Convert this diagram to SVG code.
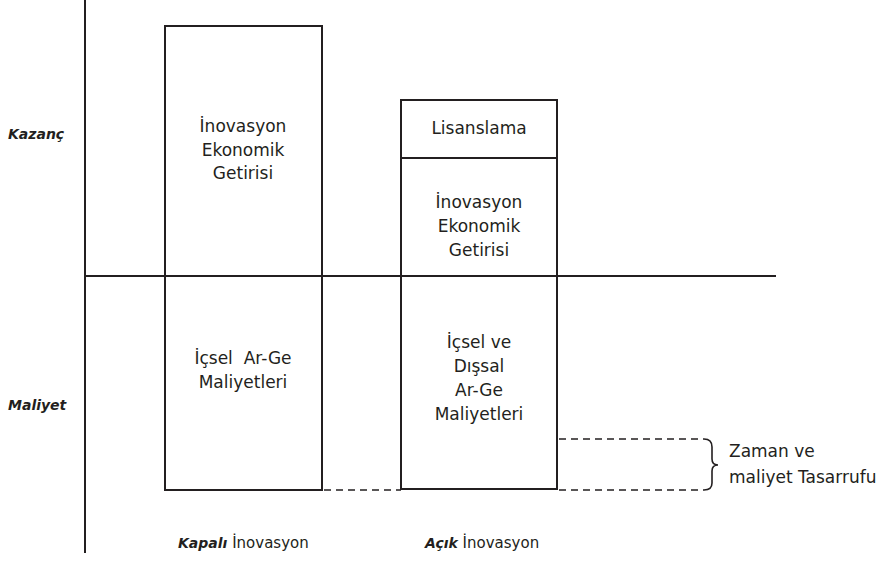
<svg xmlns="http://www.w3.org/2000/svg" width="877" height="561" viewBox="0 0 877 561">
<style>
.ln{stroke:#231f20;stroke-width:2;fill:none}
.dash{stroke:#231f20;stroke-width:1.6;fill:none;stroke-dasharray:7 5}
.t{font-family:"DejaVu Sans",sans-serif;font-size:17px;fill:#231f20;text-anchor:middle}
.b{font-family:"DejaVu Sans",sans-serif;font-size:14px;font-weight:bold;font-style:italic;fill:#231f20}
.s{font-family:"DejaVu Sans",sans-serif;font-size:17px;fill:#231f20}
.f{font-family:"DejaVu Sans",sans-serif;font-size:15px;fill:#231f20}
</style>
<rect width="877" height="561" fill="#fff"/>
<g id="axes">
<line class="ln" x1="85" y1="0" x2="85" y2="553"/>
<line class="ln" x1="85" y1="276" x2="776" y2="276"/>
</g>
<g id="connectors">
<line class="dash" x1="324" y1="490" x2="401" y2="490"/>
<line class="dash" x1="559" y1="439" x2="704" y2="439"/>
<line class="dash" x1="559" y1="490" x2="704" y2="490"/>
<path class="ln" style="stroke-width:1.6" d="M704,439 Q712,439 712,447 L712,459 Q712,465 718,465 Q712,465 712,471 L712,483 Q712,490 704,490"/>
</g>
<g id="closed-box">
<rect class="ln" x="165" y="26" width="157" height="464"/>
<text class="t" x="243" y="132">İnovasyon</text>
<text class="t" x="243" y="156">Ekonomik</text>
<text class="t" x="243" y="179">Getirisi</text>
<text class="t" x="243" y="364" xml:space="preserve">İçsel  Ar-Ge</text>
<text class="t" x="243" y="388">Maliyetleri</text>
</g>
<g id="open-box">
<rect class="ln" x="401" y="100" width="156" height="389"/>
<line class="ln" x1="401" y1="158" x2="557" y2="158"/>
<text class="t" x="479" y="134">Lisanslama</text>
<text class="t" x="479" y="208">İnovasyon</text>
<text class="t" x="479" y="232">Ekonomik</text>
<text class="t" x="479" y="256">Getirisi</text>
<text class="t" x="479" y="348">İçsel ve</text>
<text class="t" x="479" y="372">Dışsal</text>
<text class="t" x="479" y="396">Ar-Ge</text>
<text class="t" x="479" y="420">Maliyetleri</text>
</g>
<g id="labels">
<text class="b" x="8" y="139">Kazanç</text>
<text class="b" x="8" y="410">Maliyet</text>
<text class="f" x="178" y="548"><tspan class="b">Kapalı</tspan> İnovasyon</text>
<text class="f" x="425" y="548"><tspan class="b">Açık</tspan> İnovasyon</text>
<text class="s" x="729" y="457">Zaman ve</text>
<text class="s" x="729" y="483">maliyet Tasarrufu</text>
</g>
</svg>
